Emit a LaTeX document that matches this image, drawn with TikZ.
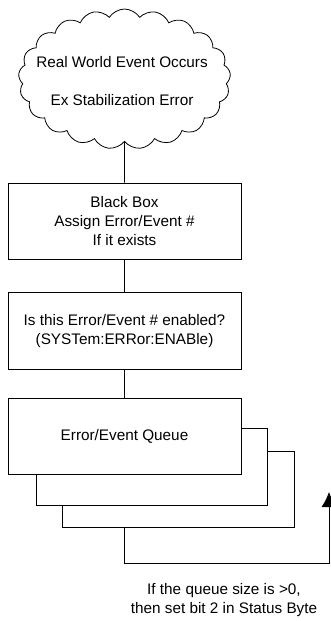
\documentclass[tikz,border=0pt]{standalone}
\usepackage{fontspec}
\setmainfont{Liberation Sans}
\usetikzlibrary{shapes.symbols,arrows.meta}
\begin{document}
\begin{tikzpicture}[x=1pt,y=-1pt,
  lbl/.style={font=\fontsize{15.3}{19}\selectfont, align=center, inner sep=0pt},
  boxn/.style={draw, line width=0.8pt, fill=white, minimum width=233pt, inner sep=0pt},
  conn/.style={line width=0.8pt},
  cloudn/.style={draw, cloud, cloud puffs=21, cloud puff arc=115, cloud ignores aspect,
     minimum width=212pt, minimum height=140pt, inner sep=0pt, line width=0.8pt}]
\useasboundingbox (0,0) rectangle (330,621);
% cloud
\node[cloudn] (cloud) at (124.5,79) {};
\node[lbl] (c1) at (122,62) {Real World Event Occurs};
\node[lbl] (c2) at (122,100) {Ex Stabilization Error};
% boxes
\node[boxn, minimum height=76pt] (b1) at (124.5,221) {};
\node[lbl] (b1t) at (124.5,221) {Black Box\\Assign Error/Event \#\\If it exists};
\node[boxn, minimum height=77pt] (b2) at (124.5,330.5) {};
\node[lbl] (b2t) at (124.5,331) {Is this Error/Event \# enabled?\\(SYSTem:ERRor:ENABle)};
% stacked queue boxes
\node[boxn, minimum width=232pt, minimum height=76pt] (q3) at (178,489) {};
\node[boxn, minimum width=231pt, minimum height=77pt] (q2) at (151.5,466.5) {};
\node[boxn, minimum height=76pt] (q1) at (124.5,436) {};
\node[lbl] (q1t) at (124.5,436) {Error/Event Queue};
% connectors
\draw[conn] (cloud.south) -- (b1.north);
\draw[conn] (b1.south) -- (b2.north);
\draw[conn] (b2.south) -- (q1.north);
\coordinate (tip) at (329,492);
\draw[conn, -{Latex[length=15pt,width=15pt]}] (q3.south -| b1.south) -- (124.5,563) -- (329,563) -- (tip);
% note
\node[lbl] (note) at (224,600) {If the queue size is >0,\\then set bit 2 in Status Byte};
\end{tikzpicture}
\end{document}
